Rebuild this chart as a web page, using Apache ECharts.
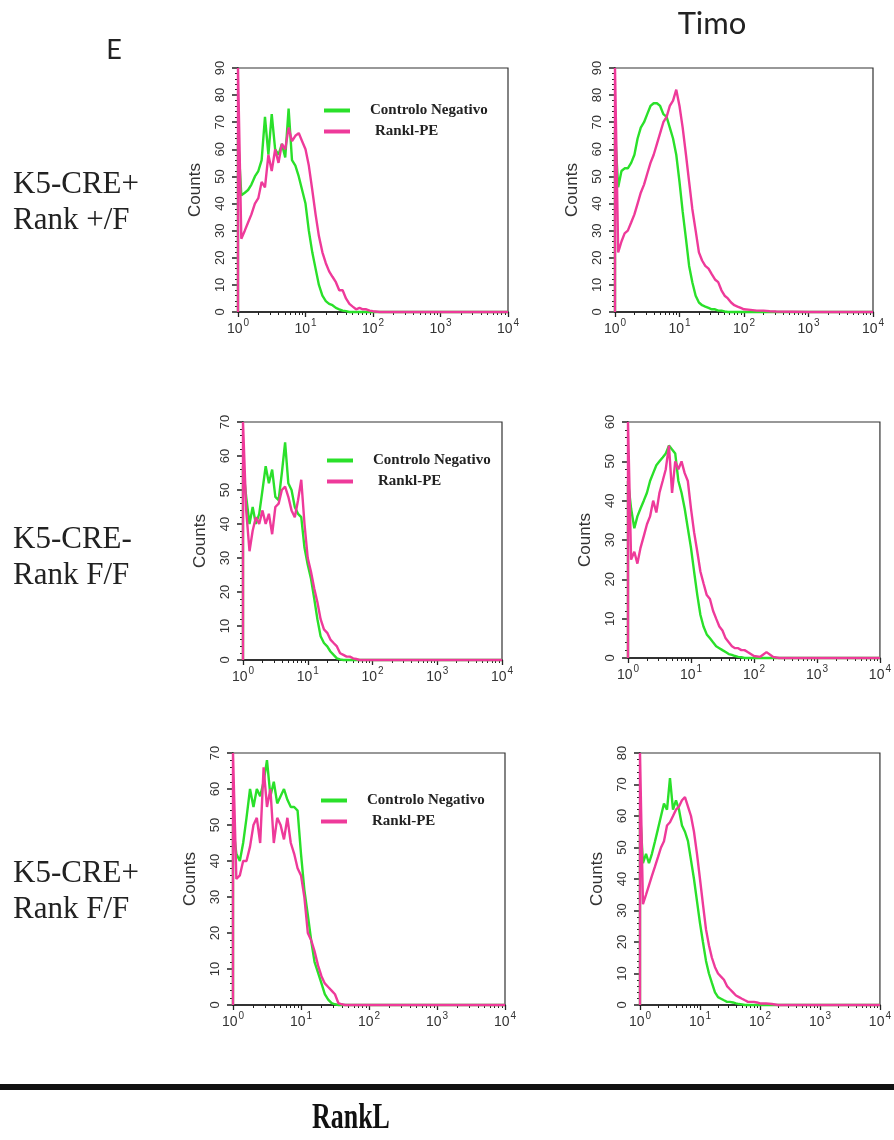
<!DOCTYPE html>
<html>
<head>
<meta charset="utf-8">
<script src="https://cdn.jsdelivr.net/npm/echarts@6.0.0/dist/echarts.min.js"></script>
<style>
  html, body { margin: 0; padding: 0; background: #fff; }
  #chart { width: 894px; height: 1140px; }
</style>
</head>
<body>
<div id="chart"></div>
<script>
  // fluorescence channel (log scale), first bin repeated so the histogram rises from 0
  var bins = [1, 1,
    1.12, 1.26, 1.41, 1.58, 1.78, 2, 2.24, 2.51, 2.82, 3.16, 3.55, 3.98, 4.47, 5.01, 5.62, 6.31, 7.08, 7.94, 8.91, 10,
    11.2, 12.6, 14.1, 15.8, 17.8, 20, 22.4, 25.1, 28.2, 31.6, 35.5, 39.8, 44.7, 50.1, 56.2, 63.1, 70.8, 79.4, 89.1, 100,
    126, 158, 200, 251, 316, 1000, 10000];

  var seriesNames = ['Controlo Negativo', 'Rankl-PE'];
  var rowLabels = [['K5-CRE+', 'Rank +/F'], ['K5-CRE-', 'Rank F/F'], ['K5-CRE+', 'Rank F/F']];
  var colTitle = 'Timo';
  var panelTag = 'E';
  var xTitle = 'RankL';
  var yName = 'Counts';
  var yMax = [90, 90, 70, 60, 70, 80];

  // K5-CRE+ Rank +/F
  var neg1 = [0, 65,
    43, 44, 45, 47, 50, 52, 56, 72, 58, 73, 60, 58, 62, 57, 75, 56, 54, 50, 45, 40,
    30, 22, 16, 10, 6, 4, 3, 2.5, 1.5, 1, 0.5, 0.3, 0, 0, 0, 0, 0, 0, 0, 0,
    0, 0, 0, 0, 0, 0, 0];
  var pe1 = [0, 90,
    27, 30, 33, 36, 40, 42, 48, 46, 58, 52, 60, 55, 62, 60, 68, 63, 65, 66, 63, 60,
    54, 45, 36, 28, 22, 18, 15, 13, 11, 8, 8, 5, 3, 2, 1, 1.5, 1, 1, 0.5, 0.3,
    0, 0, 0, 0, 0, 0, 0];
  var neg2 = [0, 67,
    46, 52, 53, 53, 55, 58, 64, 68, 70, 73, 76, 77, 77, 76, 73, 72, 68, 64, 58, 48,
    37, 27, 17, 11, 6, 3.5, 2.5, 2, 1.5, 1, 1, 0.5, 0.5, 0.2, 0, 0, 0, 0, 0, 0,
    0, 0, 0, 0, 0, 0, 0];
  var pe2 = [0, 90,
    22, 26, 29, 30, 33, 36, 40, 44, 47, 51, 55, 58, 62, 66, 70, 72, 76, 78, 82, 76,
    68, 58, 48, 38, 30, 22, 19, 17, 16, 14, 12, 11, 8, 6, 5, 3.5, 2.5, 2, 1.5, 1,
    0.8, 0.5, 0.5, 0.3, 0.2, 0, 0];

  // K5-CRE- Rank F/F
  var neg3 = [0, 57,
    48, 40, 45, 40, 43, 50, 57, 52, 56, 48, 47, 55, 64, 52, 50, 45, 43, 42, 33, 28,
    24, 18, 12, 7, 5, 4, 2.5, 1.5, 0.5, 0.2, 0, 0, 0, 0, 0, 0, 0, 0, 0, 0,
    0, 0, 0, 0, 0, 0, 0];
  var pe3 = [0, 70,
    44, 32, 38, 42, 40, 44, 40, 43, 37, 45, 46, 50, 51, 48, 44, 42, 47, 53, 40, 30,
    26, 21, 17, 12, 9, 8, 6, 5, 4, 2, 1.5, 1, 1, 0.5, 0.3, 0, 0, 0, 0, 0,
    0, 0, 0, 0, 0, 0, 0];
  var neg4 = [0, 45,
    38, 33, 36, 38, 40, 42, 45, 47, 49, 50, 51, 52, 54, 53, 52, 45, 42, 38, 33, 28,
    22, 16, 11, 8, 6, 5, 4, 3, 2.5, 2, 1.5, 1, 0.8, 0.5, 0.3, 0.2, 0, 0, 0, 0,
    0, 0, 0, 0, 0, 0, 0];
  var pe4 = [0, 60,
    25, 27, 24, 28, 31, 34, 36, 40, 37, 42, 45, 48, 54, 42, 50, 48, 50, 47, 45, 38,
    32, 27, 22, 19, 16, 15, 12, 10, 8, 7, 5, 4, 3, 2.5, 2.5, 2, 2, 1.5, 1, 0.5,
    0.3, 1.5, 0.3, 0, 0, 0, 0];

  // K5-CRE+ Rank F/F
  var neg5 = [0, 50,
    42, 40, 45, 52, 60, 55, 60, 58, 62, 68, 58, 62, 56, 58, 60, 57, 55, 55, 54, 42,
    32, 25, 18, 12, 9, 6, 3, 1.5, 0.5, 0.2, 0, 0, 0, 0, 0, 0, 0, 0, 0, 0,
    0, 0, 0, 0, 0, 0, 0];
  var pe5 = [0, 70,
    35, 36, 40, 40, 44, 50, 52, 45, 66, 55, 60, 45, 52, 50, 46, 52, 45, 42, 38, 36,
    30, 20, 18, 15, 11, 8, 6, 5, 4, 3, 0.5, 0.2, 0, 0, 0, 0, 0, 0, 0, 0,
    0, 0, 0, 0, 0, 0, 0];
  var neg6 = [0, 62,
    45, 48, 45, 48, 52, 56, 60, 64, 62, 72, 62, 65, 62, 57, 55, 52, 46, 40, 33, 26,
    20, 14, 10, 7, 4, 2.5, 2, 1.5, 1, 1, 0.8, 0.5, 0.3, 0.2, 0, 0, 0, 0, 0, 0,
    0, 0, 0, 0, 0, 0, 0];
  var pe6 = [0, 80,
    32, 35, 38, 41, 44, 47, 50, 52, 57, 58, 60, 62, 63, 65, 66, 63, 60, 55, 48, 40,
    32, 24, 19, 15, 12, 10, 9, 8, 6, 5, 4, 3, 2.5, 2, 1.5, 1, 1, 1, 0.8, 0.5,
    0.5, 0.3, 0, 0, 0, 0, 0];

  var negData = [neg1, neg2, neg3, neg4, neg5, neg6];
  var peData = [pe1, pe2, pe3, pe4, pe5, pe6];

  var green = '#2ae02a';
  var pink = '#ee3a9a';
  var sans = 'Liberation Sans, Arial, sans-serif';
  var serif = 'Liberation Serif, Times New Roman, serif';

  var layout = [
    { left: 238, top: 68, width: 270, height: 244 },
    { left: 615, top: 68, width: 258, height: 244 },
    { left: 243, top: 422, width: 259, height: 238 },
    { left: 628, top: 422, width: 252, height: 236 },
    { left: 233, top: 753, width: 272, height: 252 },
    { left: 640, top: 753, width: 245, height: 252 }
  ];
  var legendPos = [
    { left: 319, top: 98 },
    { left: 322, top: 448 },
    { left: 316, top: 788 }
  ];

  function pairs(arr) {
    return bins.map(function (x, i) { return [x, arr[i]]; });
  }

  var grid = [], xAxis = [], yAxis = [], series = [], legend = [];

  layout.forEach(function (g, i) {
    grid.push({
      left: g.left, top: g.top, width: g.width, height: g.height,
      show: true, borderColor: '#333', borderWidth: 1.2, backgroundColor: '#fff'
    });
    xAxis.push({
      gridIndex: i, type: 'log', logBase: 10, min: 1, max: 10000,
      axisLine: { lineStyle: { color: '#111', width: 1.5 } },
      axisTick: { show: true, length: 5, lineStyle: { color: '#222', width: 1.3 } },
      minorTick: { show: true, splitNumber: 9, length: 3, lineStyle: { color: '#222' } },
      splitLine: { show: false },
      axisLabel: {
        margin: 6,
        formatter: function (v) {
          return '{b|10}{s|' + Math.round(Math.log(v) / Math.LN10) + '}';
        },
        rich: {
          b: { fontSize: 14, fontFamily: sans, color: '#333', lineHeight: 18, verticalAlign: 'bottom' },
          s: { fontSize: 10, fontFamily: sans, color: '#333', lineHeight: 18, verticalAlign: 'top', padding: [0, 0, 0, 1] }
        }
      }
    });
    yAxis.push({
      gridIndex: i, type: 'value', min: 0, max: yMax[i], interval: 10,
      name: yName, nameLocation: 'middle', nameRotate: 90, nameGap: 34,
      nameTextStyle: { fontSize: 17, fontFamily: sans, color: '#333' },
      axisLine: { show: true, lineStyle: { color: '#111', width: 1.5 } },
      axisTick: { show: true, length: 6, lineStyle: { color: '#222', width: 1.5 } },
      minorTick: { show: true, splitNumber: 5, length: 3, lineStyle: { color: '#222' } },
      splitLine: { show: false },
      axisLabel: { rotate: 90, margin: 11, fontSize: 13, fontFamily: sans, color: '#333' }
    });
    series.push({
      name: seriesNames[0], type: 'line', xAxisIndex: i, yAxisIndex: i,
      data: pairs(negData[i]), showSymbol: false, symbol: 'none',
      lineStyle: { color: green, width: 2.4 }, itemStyle: { color: green }, clip: false
    });
    series.push({
      name: seriesNames[1], type: 'line', xAxisIndex: i, yAxisIndex: i,
      data: pairs(peData[i]), showSymbol: false, symbol: 'none',
      lineStyle: { color: pink, width: 2.4 }, itemStyle: { color: pink }, clip: false
    });
  });

  legendPos.forEach(function (p) {
    legend.push({
      left: p.left, top: p.top, orient: 'vertical', itemGap: 6,
      itemWidth: 26, itemHeight: 4, icon: 'rect', selectedMode: false,
      data: [
        { name: seriesNames[0], itemStyle: { color: green } },
        { name: seriesNames[1], itemStyle: { color: pink }, textStyle: { padding: [0, 0, 0, 20] } }
      ],
      textStyle: { fontFamily: serif, fontWeight: 'bold', fontSize: 15, color: '#222', padding: [0, 0, 0, 15] }
    });
  });

  var rowCenters = [[185, 221], [540, 576], [874, 910]];
  var graphic = [
    { type: 'text', x: 114, y: 50, style: { text: panelTag, font: '27px Lato, sans-serif', fill: '#222', textAlign: 'center', textVerticalAlign: 'middle' } },
    { type: 'text', x: 712, y: 24, style: { text: colTitle, font: '31px Lato, sans-serif', fill: '#222', textAlign: 'center', textVerticalAlign: 'middle' } },
    { type: 'line', shape: { x1: 0, y1: 1087, x2: 894, y2: 1087 }, style: { stroke: '#111', lineWidth: 6 } },
    { type: 'text', x: 351, y: 1119, scaleX: 0.72, style: { text: xTitle, font: 'bold 36px ' + serif, fill: '#111', textAlign: 'center', textVerticalAlign: 'middle' } }
  ];
  rowLabels.forEach(function (lines, r) {
    lines.forEach(function (t, k) {
      graphic.push({
        type: 'text', x: 13, y: rowCenters[r][k],
        style: { text: t, font: '31px ' + serif, fill: '#222', textAlign: 'left', textVerticalAlign: 'middle' }
      });
    });
  });

  var chart = echarts.init(document.getElementById('chart'), null, { renderer: 'canvas' });
  chart.setOption({
    backgroundColor: '#fff',
    animation: false,
    grid: grid,
    xAxis: xAxis,
    yAxis: yAxis,
    legend: legend,
    series: series,
    graphic: graphic
  });
</script>
</body>
</html>
